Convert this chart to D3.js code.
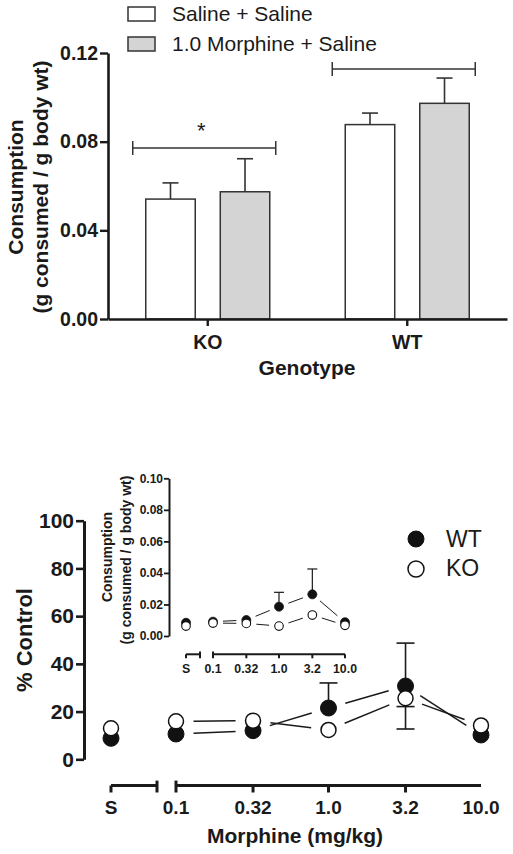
<!DOCTYPE html>
<html>
<head>
<meta charset="utf-8">
<script src="https://cdn.jsdelivr.net/npm/d3@7"></script>
<style>
  html, body { margin: 0; padding: 0; background: #fff; }
  svg { display: block; font-family: "Liberation Sans", Arial, Helvetica, sans-serif; }
  .bold { font-weight: bold; }
</style>
</head>
<body>
<svg id="chart" width="513" height="854"></svg>
<script>
// ---------------- DATA: top bar chart ----------------
const groups = ["KO", "WT"];
const treatments = ["Saline + Saline", "1.0 Morphine + Saline"];
const meanSaline = [0.0541, 0.0877];
const meanMorphine = [0.0574, 0.0973];
const semSaline = [0.0073, 0.0052];
const semMorphine = [0.0149, 0.0114];
const topYTicks = [0, 0.04, 0.08, 0.12];
const bracketY = [0.0771, 0.1128];
const bracketLabel = ["*", ""];

// ---------------- DATA: bottom dose-response ----------------
const doses = ["S", 0.1, 0.32, 1.0, 3.2, 10.0];
const doseLabels = ["S", "0.1", "0.32", "1.0", "3.2", "10.0"];
const wtPct = [8.8, 10.6, 12.0, 21.5, 30.7, 10.2];
const koPct = [13.0, 15.9, 16.2, 12.3, 25.6, 14.2];
const wtPctErrUp = [0, 0, 0, 10.5, 18.0, 0];
const wtPctErrDown = [0, 0, 0, 0, 18.0, 0];
const koPctErrDown = [0, 0, 0, 0, 3.5, 0];
const pctTicks = [0, 20, 40, 60, 80, 100];

// inset (g consumed / g body wt)
const wtG = [0.0084, 0.0091, 0.0101, 0.0186, 0.0264, 0.0087];
const koG = [0.0063, 0.0082, 0.0080, 0.0063, 0.0133, 0.0068];
const wtGErrUp = [0, 0, 0, 0.0091, 0.0161, 0];
const insetTicks = [0, 0.02, 0.04, 0.06, 0.08, 0.10];
const seriesNames = ["WT", "KO"];

const svg = d3.select("#chart");
svg.append("rect").attr("width", 513).attr("height", 854).attr("fill", "#fff");
const INK = "#1a1a1a";

// ================= TOP CHART =================
const topG = svg.append("g");
const yTop = d3.scaleLinear().domain([0, 0.12]).range([319, 53]);
const xTop = d3.scaleBand().domain(groups).range([108, 507]);
const xSub = d3.scaleBand().domain(treatments).range([-62, 62]).paddingInner(0.336).paddingOuter(0);
const fills = ["#ffffff", "#d4d4d4"];

const barData = [];
groups.forEach((g, i) => {
  barData.push({g, t: treatments[0], v: meanSaline[i], e: semSaline[i], f: fills[0]});
  barData.push({g, t: treatments[1], v: meanMorphine[i], e: semMorphine[i], f: fills[1]});
});
const cx = g => xTop(g) + xTop.bandwidth() / 2;

// error bars (behind bars)
const eb = topG.append("g").attr("stroke", "#333").attr("stroke-width", 1.6);
barData.forEach(d => {
  const bx = cx(d.g) + xSub(d.t) + xSub.bandwidth() / 2;
  eb.append("line").attr("x1", bx).attr("x2", bx).attr("y1", yTop(d.v)).attr("y2", yTop(d.v + d.e));
  eb.append("line").attr("x1", bx - 8).attr("x2", bx + 8).attr("y1", yTop(d.v + d.e)).attr("y2", yTop(d.v + d.e));
});
topG.append("g").selectAll("rect").data(barData).join("rect")
  .attr("x", d => cx(d.g) + xSub(d.t))
  .attr("width", xSub.bandwidth())
  .attr("y", d => yTop(d.v))
  .attr("height", d => yTop(0) - yTop(d.v))
  .attr("fill", d => d.f)
  .attr("stroke", "#333").attr("stroke-width", 1.5);

// significance brackets
groups.forEach((g, i) => {
  const yb = yTop(bracketY[i]);
  const x1 = cx(g) - 75, x2 = cx(g) + 68;
  const bg = topG.append("g").attr("stroke", "#333").attr("stroke-width", 1.5);
  bg.append("line").attr("x1", x1).attr("x2", x2).attr("y1", yb).attr("y2", yb);
  bg.append("line").attr("x1", x1).attr("x2", x1).attr("y1", yb - 7).attr("y2", yb + 7);
  bg.append("line").attr("x1", x2).attr("x2", x2).attr("y1", yb - 7).attr("y2", yb + 7);
  if (bracketLabel[i]) {
    topG.append("text").attr("x", (x1 + x2) / 2 - 3).attr("y", yb - 10)
      .attr("text-anchor", "middle").attr("font-size", 22).attr("fill", INK).text(bracketLabel[i]);
  }
});

// y axis
const yAxTop = topG.append("g").attr("transform", "translate(108,0)")
  .call(d3.axisLeft(yTop).tickValues(topYTicks).tickFormat(d3.format(".2f")).tickSize(8).tickSizeOuter(0).tickPadding(2));
yAxTop.select(".domain").attr("stroke", INK).attr("stroke-width", 2.6);
yAxTop.selectAll(".tick line").attr("stroke", INK).attr("stroke-width", 2.4);
yAxTop.selectAll(".tick text").attr("font-size", 19.5).attr("font-weight", "bold").attr("fill", INK)
  .attr("font-family", "Liberation Sans, Arial, sans-serif");

// x axis
const xAxTop = topG.append("g").attr("transform", "translate(0,319)")
  .call(d3.axisBottom(xTop).tickSize(7).tickSizeOuter(0).tickPadding(9));
xAxTop.select(".domain").attr("stroke", INK).attr("stroke-width", 2.6);
xAxTop.selectAll(".tick line").attr("stroke", INK).attr("stroke-width", 2.4);
xAxTop.selectAll(".tick text").attr("font-size", 19.5).attr("font-weight", "bold").attr("fill", INK)
  .attr("font-family", "Liberation Sans, Arial, sans-serif");

topG.append("text").attr("class", "bold").attr("x", 307).attr("y", 375).attr("text-anchor", "middle")
  .attr("font-size", 21).attr("fill", INK).text("Genotype");
topG.append("text").attr("class", "bold").attr("transform", "translate(23,187) rotate(-90)")
  .attr("text-anchor", "middle").attr("font-size", 21).attr("fill", INK).text("Consumption");
topG.append("text").attr("class", "bold").attr("transform", "translate(48,187) rotate(-90)")
  .attr("text-anchor", "middle").attr("font-size", 21).attr("fill", INK).text("(g consumed / g body wt)");

// legend
treatments.forEach((t, i) => {
  topG.append("rect").attr("x", 128).attr("y", 7 + i * 30).attr("width", 27).attr("height", 14)
    .attr("fill", fills[i]).attr("stroke", "#333").attr("stroke-width", 1.5);
  topG.append("text").attr("x", 172).attr("y", 21 + i * 30).attr("font-size", 21).attr("fill", INK).text(t);
});

// ================= BOTTOM CHART =================
const bot = svg.append("g");
const yPct = d3.scaleLinear().domain([0, 100]).range([759.3, 520.7]);
const xDose = d3.scaleLog().domain([0.1, 10]).range([176, 481]);
const xPos = d => d === "S" ? xDose(0.1) - 65 : xDose(d);

// y axis
const yAxB = bot.append("g").attr("transform", "translate(84,0)")
  .call(d3.axisLeft(yPct).tickValues(pctTicks).tickSize(8).tickSizeOuter(0).tickPadding(2));
yAxB.select(".domain").attr("stroke", INK).attr("stroke-width", 3);
yAxB.selectAll(".tick line").attr("stroke", INK).attr("stroke-width", 2.6);
yAxB.selectAll(".tick text").attr("font-size", 21).attr("font-weight", "bold").attr("fill", INK)
  .attr("font-family", "Liberation Sans, Arial, sans-serif");

// broken x axis
function brokenAxis(g, xs, xl, yAx, sEnd, tickLen, sw, fs, labY, mainEndTick) {
  const a = g.append("g").attr("stroke", INK).attr("stroke-width", sw).attr("fill", "none");
  const sx = xs("S");
  a.append("line").attr("x1", sx).attr("x2", sEnd).attr("y1", yAx).attr("y2", yAx);
  a.append("line").attr("x1", sx).attr("x2", sx).attr("y1", yAx).attr("y2", yAx + tickLen);
  a.append("line").attr("x1", sEnd).attr("x2", sEnd).attr("y1", yAx - tickLen * 0.7).attr("y2", yAx + tickLen);
  const r = xl.range();
  a.append("line").attr("x1", r[0]).attr("x2", r[1]).attr("y1", yAx).attr("y2", yAx);
  doses.slice(1).forEach((d, i) => {
    if (i === doses.length - 2 && !mainEndTick) return;
    a.append("line").attr("x1", xl(d)).attr("x2", xl(d))
      .attr("y1", i === 0 ? yAx - tickLen * 0.7 : yAx).attr("y2", yAx + tickLen);
  });
  g.append("g").selectAll("text").data(doses).join("text")
    .attr("x", d => xs(d)).attr("y", labY).attr("text-anchor", "middle")
    .attr("font-size", fs).attr("font-weight", "bold").attr("fill", INK)
    .text((d, i) => doseLabels[i]);
}
brokenAxis(bot, xPos, xDose, 785.5, 157, 7, 3, 19, 814, false);

bot.append("text").attr("class", "bold").attr("x", 295).attr("y", 843).attr("text-anchor", "middle")
  .attr("font-size", 21).attr("fill", INK).text("Morphine (mg/kg)");
bot.append("text").attr("class", "bold").attr("transform", "translate(32,640) rotate(-90)")
  .attr("text-anchor", "middle").attr("font-size", 22).attr("fill", INK).text("% Control");

// connecting lines with gaps around markers
function gapLines(g, xs, ys, vals, gap, sw) {
  for (let i = 1; i < doses.length - 1; i++) {
    const x1 = xs(doses[i]), y1 = ys(vals[i]), x2 = xs(doses[i + 1]), y2 = ys(vals[i + 1]);
    const L = Math.hypot(x2 - x1, y2 - y1), ux = (x2 - x1) / L, uy = (y2 - y1) / L;
    g.append("line").attr("x1", x1 + ux * gap).attr("y1", y1 + uy * gap)
      .attr("x2", x2 - ux * gap).attr("y2", y2 - uy * gap)
      .attr("stroke", INK).attr("stroke-width", sw);
  }
}
gapLines(bot, xPos, yPct, wtPct, 17.5, 1.5);
gapLines(bot, xPos, yPct, koPct, 17.5, 1.5);

// error bars
function errBars(g, xs, ys, vals, errs, dir, cap, sw) {
  doses.forEach((d, i) => {
    if (!errs[i]) return;
    const x = xs(d), y0 = ys(vals[i]), y1 = ys(vals[i] + dir * errs[i]);
    g.append("line").attr("x1", x).attr("x2", x).attr("y1", y0).attr("y2", y1).attr("stroke", INK).attr("stroke-width", sw);
    g.append("line").attr("x1", x - cap).attr("x2", x + cap).attr("y1", y1).attr("y2", y1).attr("stroke", INK).attr("stroke-width", sw);
  });
}
errBars(bot, xPos, yPct, wtPct, wtPctErrUp, 1, 9, 1.6);
errBars(bot, xPos, yPct, wtPct, wtPctErrDown, -1, 9, 1.6);
errBars(bot, xPos, yPct, koPct, koPctErrDown, -1, 9, 1.6);

// markers
bot.append("g").selectAll("circle").data(doses).join("circle")
  .attr("cx", d => xPos(d)).attr("cy", (d, i) => yPct(wtPct[i])).attr("r", 8)
  .attr("fill", "#111").attr("stroke", "#111").attr("stroke-width", 1);
bot.append("g").selectAll("circle").data(doses).join("circle")
  .attr("cx", d => xPos(d)).attr("cy", (d, i) => yPct(koPct[i])).attr("r", 7.5)
  .attr("fill", "#fff").attr("stroke", "#111").attr("stroke-width", 1.5);

// legend
seriesNames.forEach((s, i) => {
  bot.append("circle").attr("cx", 416).attr("cy", 539 + i * 30).attr("r", 8)
    .attr("fill", i === 0 ? "#111" : "#fff").attr("stroke", "#111").attr("stroke-width", i === 0 ? 1 : 1.5);
  bot.append("text").attr("x", 446).attr("y", 547 + i * 29).attr("font-size", 23).attr("fill", INK).text(s);
});

// ================= INSET =================
const ins = svg.append("g");
const yIn = d3.scaleLinear().domain([0, 0.10]).range([636, 478.3]);
const xInLog = d3.scaleLog().domain([0.1, 10]).range([213, 345]);
const xIn = d => d === "S" ? xInLog(0.1) - 27 : xInLog(d);

const yAxI = ins.append("g").attr("transform", "translate(169,0)")
  .call(d3.axisLeft(yIn).tickValues(insetTicks).tickFormat(d3.format(".2f")).tickSize(5).tickSizeOuter(0).tickPadding(1));
yAxI.select(".domain").attr("stroke", INK).attr("stroke-width", 2);
yAxI.selectAll(".tick line").attr("stroke", INK).attr("stroke-width", 1.8);
yAxI.selectAll(".tick text").attr("font-size", 12).attr("font-weight", "bold").attr("fill", INK)
  .attr("font-family", "Liberation Sans, Arial, sans-serif");

brokenAxis(ins, xIn, xInLog, 654.3, 200, 4, 2, 12.3, 673, true);

ins.append("text").attr("class", "bold").attr("transform", "translate(112,557) rotate(-90)")
  .attr("text-anchor", "middle").attr("font-size", 14).attr("fill", INK).text("Consumption");
ins.append("text").attr("class", "bold").attr("transform", "translate(131,560) rotate(-90)")
  .attr("text-anchor", "middle").attr("font-size", 14).attr("fill", INK).text("(g consumed / g body wt)");

gapLines(ins, xIn, yIn, wtG, 10, 1);
gapLines(ins, xIn, yIn, koG, 10, 1);
errBars(ins, xIn, yIn, wtG, wtGErrUp, 1, 5, 1.2);

ins.append("g").selectAll("circle").data(doses).join("circle")
  .attr("cx", d => xIn(d)).attr("cy", (d, i) => yIn(wtG[i])).attr("r", 4.5)
  .attr("fill", "#111").attr("stroke", "#111").attr("stroke-width", 0.8);
ins.append("g").selectAll("circle").data(doses).join("circle")
  .attr("cx", d => xIn(d)).attr("cy", (d, i) => yIn(koG[i])).attr("r", 4.3)
  .attr("fill", "#fff").attr("stroke", "#111").attr("stroke-width", 1.1);
</script>
</body>
</html>
